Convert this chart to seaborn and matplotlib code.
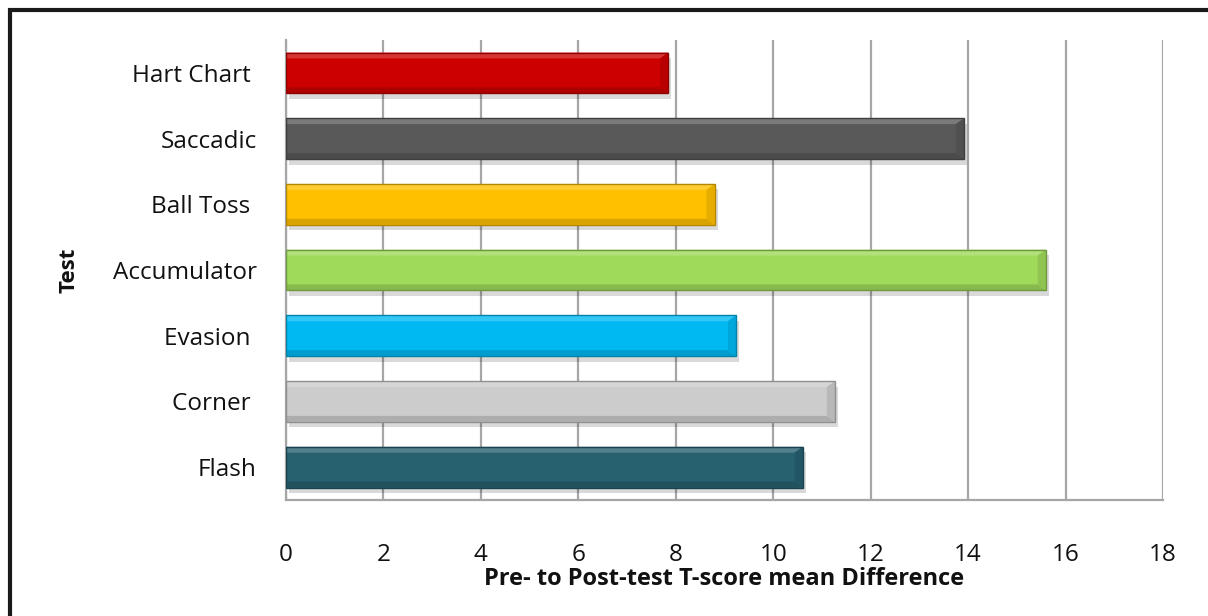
import matplotlib
matplotlib.use("Agg")
import matplotlib.pyplot as plt
import matplotlib.patheffects as pe
from matplotlib.patches import Polygon, Rectangle
from matplotlib.colors import to_rgb
import seaborn as sns
import pandas as pd
import numpy as np

# Pre- to post-test T-score mean differences per test
tests = ["Hart Chart ", "Saccadic", "Ball Toss ", "Accumulator", "Evasion ", "Corner ", "Flash"]
mean_diff = [7.85, 13.92, 8.80, 15.60, 9.24, 11.27, 10.61]
bar_colors = ["#CC0000", "#595959", "#FFC000", "#9FDA5A", "#00B9F2", "#CCCCCC", "#27606F"]
x_ticks = [0, 2, 4, 6, 8, 10, 12, 14, 16, 18]

sns.set_theme(style="white")
plt.rcParams["font.family"] = ["Open Sans", "DejaVu Sans"]

df = pd.DataFrame({"Test": tests, "Diff": mean_diff})

fig = plt.figure(figsize=(12.08, 6.16), dpi=100)
ax = fig.add_axes([0.2368, 0.1883, 0.7259, 0.7467])

sns.barplot(data=df, x="Diff", y="Test", hue="Test", palette=bar_colors,
            orient="h", width=0.62, legend=False, ax=ax, zorder=3,
            linewidth=0, saturation=1)

ax.set_xlim(0, 18)
ax.set_ylim(6.5, -0.5)
ax.set_xticks(x_ticks)
ax.set_xticklabels([str(t) for t in x_ticks])

# vertical gridlines
ax.grid(axis="x", color="#A6A6A6", linewidth=1.6, zorder=0)
ax.grid(axis="y", visible=False)
for side in ("top", "right"):
    ax.spines[side].set_visible(False)
for side in ("left", "bottom"):
    ax.spines[side].set_color("#A6A6A6")
    ax.spines[side].set_linewidth(1.6)
ax.tick_params(axis="both", length=0)
ax.tick_params(axis="y", pad=21, labelsize=17.5, labelcolor="#111111")
ax.tick_params(axis="x", pad=31, labelsize=17.5, labelcolor="#111111")

ax.set_xlabel("Pre- to Post-test T-score mean Difference", fontsize=17,
              fontweight="bold", labelpad=0, color="#111111")
ax.set_ylabel("Test", fontsize=16, fontweight="bold", color="#111111")
ax.yaxis.set_label_coords(-0.236, 0.5)


def shade(color, f):
    c = np.array(to_rgb(color))
    if f >= 0:
        return tuple(c + (1 - c) * f)
    return tuple(c * (1 + f))


# bevelled look for each bar: highlight on top, shade on bottom and right end
bev_x = 0.17
bev_y = 0.09
for patch, col in zip(ax.patches, bar_colors):
    x0, y0 = patch.get_x(), patch.get_y()
    w, h = patch.get_width(), patch.get_height()
    x1, y1 = x0 + w, y0 + h
    patch.set_path_effects([pe.SimplePatchShadow(offset=(2, -4), shadow_rgbFace="#000000", alpha=0.15),
                            pe.Normal()])
    # top bevel (y0 is the visual top since axis is inverted)
    ax.add_patch(Polygon([(x0, y0), (x1, y0), (x1 - bev_x, y0 + bev_y), (x0, y0 + bev_y)],
                         closed=True, facecolor=shade(col, 0.2), edgecolor="none", zorder=4))
    # bottom bevel
    ax.add_patch(Polygon([(x0, y1), (x1, y1), (x1 - bev_x, y1 - bev_y), (x0, y1 - bev_y)],
                         closed=True, facecolor=shade(col, -0.15), edgecolor="none", zorder=4))
    # right end bevel
    ax.add_patch(Polygon([(x1, y0), (x1, y1), (x1 - bev_x, y1 - bev_y), (x1 - bev_x, y0 + bev_y)],
                         closed=True, facecolor=shade(col, -0.1), edgecolor="none", zorder=4))
    # thin outline
    ax.add_patch(Rectangle((x0, y0), w, h, facecolor="none",
                           edgecolor=shade(col, -0.3), linewidth=1.0, zorder=5))

# chart frame
fig.patches.append(Rectangle((10 / 1208, -0.2), 2.0, 1.2 - 10 / 616,
                             transform=fig.transFigure, fill=False,
                             edgecolor="#1a1a1a", linewidth=3, zorder=10))

fig.savefig("out.png", dpi=100, facecolor="white")
